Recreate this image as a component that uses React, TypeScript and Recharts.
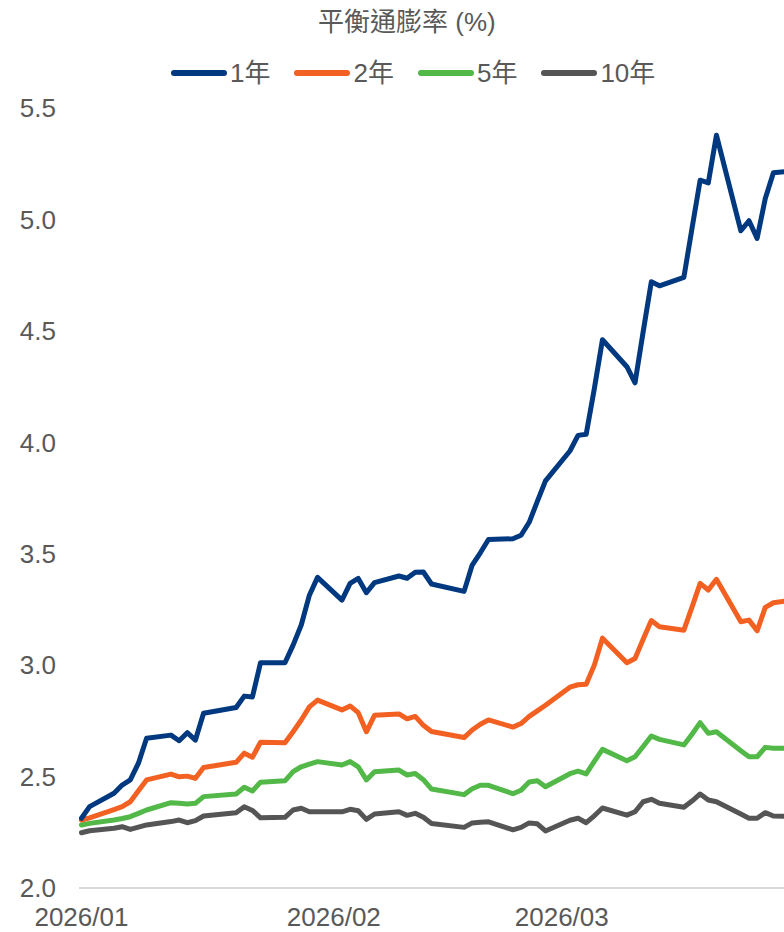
import { LineChart, Line, XAxis, YAxis } from 'recharts'

// trading days shown on the chart
const dates = [
  '2026-01-01', '2026-01-02', '2026-01-05', '2026-01-06', '2026-01-07', '2026-01-08', '2026-01-09',
  '2026-01-12', '2026-01-13', '2026-01-14', '2026-01-15', '2026-01-16',
  '2026-01-20', '2026-01-21', '2026-01-22', '2026-01-23',
  '2026-01-26', '2026-01-27', '2026-01-28', '2026-01-29', '2026-01-30',
  '2026-02-02', '2026-02-03', '2026-02-04', '2026-02-05', '2026-02-06',
  '2026-02-09', '2026-02-10', '2026-02-11', '2026-02-12', '2026-02-13',
  '2026-02-17', '2026-02-18', '2026-02-19', '2026-02-20',
  '2026-02-23', '2026-02-24', '2026-02-25', '2026-02-26', '2026-02-27',
  '2026-03-02', '2026-03-03', '2026-03-04', '2026-03-05', '2026-03-06',
  '2026-03-09', '2026-03-10', '2026-03-11', '2026-03-12', '2026-03-13',
  '2026-03-16', '2026-03-17', '2026-03-18', '2026-03-19', '2026-03-20',
  '2026-03-23', '2026-03-24', '2026-03-25', '2026-03-26', '2026-03-27',
  '2026-03-30',
]

const be1y = [
  2.313, 2.365, 2.425, 2.462, 2.485, 2.56, 2.672,
  2.686, 2.661, 2.697, 2.664, 2.784,
  2.81, 2.861, 2.857, 3.011,
  3.011, 3.09, 3.18, 3.314, 3.394,
  3.292, 3.367, 3.389, 3.325, 3.37,
  3.4, 3.39, 3.417, 3.418, 3.364,
  3.331, 3.449, 3.504, 3.564,
  3.567, 3.583, 3.641, 3.735, 3.827,
  3.961, 4.031, 4.036, 4.24, 4.46,
  4.339, 4.267, 4.496, 4.72, 4.702,
  4.74, 4.96, 5.176, 5.164, 5.378,
  4.949, 4.994, 4.915, 5.094, 5.209,
  5.22,
]

const be2y = [
  2.305, 2.315, 2.352, 2.365, 2.387, 2.436, 2.485,
  2.511, 2.499, 2.502, 2.492, 2.541,
  2.564, 2.605, 2.587, 2.654,
  2.652, 2.701, 2.754, 2.813, 2.843,
  2.799, 2.817, 2.787, 2.701, 2.775,
  2.781, 2.759, 2.77, 2.73, 2.702,
  2.675, 2.709, 2.735, 2.754,
  2.722, 2.738, 2.77, 2.795, 2.82,
  2.901, 2.912, 2.914, 3.0, 3.121,
  3.011, 3.03, 3.116, 3.2, 3.172,
  3.157, 3.26, 3.367, 3.337, 3.385,
  3.195, 3.202, 3.154, 3.259, 3.28,
  3.295,
]

const be5y = [
  2.283, 2.29, 2.305, 2.312, 2.32, 2.335, 2.35,
  2.383, 2.38, 2.377, 2.38, 2.41,
  2.422, 2.452, 2.435, 2.475,
  2.481, 2.522, 2.544, 2.556, 2.567,
  2.552, 2.567, 2.544, 2.485, 2.522,
  2.529, 2.507, 2.514, 2.486, 2.444,
  2.419, 2.445, 2.461, 2.461,
  2.423, 2.439, 2.476, 2.481, 2.454,
  2.513, 2.524, 2.512, 2.568, 2.622,
  2.571, 2.589, 2.635, 2.682, 2.667,
  2.642, 2.69, 2.742, 2.694, 2.701,
  2.616, 2.589, 2.589, 2.631, 2.627,
  2.627,
]

const be10y = [
  2.248, 2.257, 2.268, 2.275, 2.263, 2.273, 2.283,
  2.298, 2.305, 2.293, 2.302, 2.323,
  2.338, 2.365, 2.348, 2.315,
  2.317, 2.35, 2.358, 2.342, 2.342,
  2.342, 2.353, 2.347, 2.308, 2.332,
  2.342, 2.326, 2.335, 2.317, 2.289,
  2.272, 2.292, 2.295, 2.297,
  2.261, 2.272, 2.292, 2.288, 2.256,
  2.304, 2.313, 2.293, 2.324, 2.359,
  2.327, 2.342, 2.387, 2.398, 2.38,
  2.362, 2.39, 2.422, 2.395, 2.387,
  2.332, 2.313, 2.313, 2.338, 2.323,
  2.32,
]

const seriesNames = ['1年', '2年', '5年', '10年']
const seriesKeys = ['y1', 'y2', 'y5', 'y10']
const colors = ['#00397f', '#f26122', '#52b848', '#555555']

const yTicks = [2.0, 2.5, 3.0, 3.5, 4.0, 4.5, 5.0, 5.5]
const monthStarts = ['2026-01-01', '2026-02-01', '2026-03-01']
const monthLabels = ['2026/01', '2026/02', '2026/03']

const DAY = 86400000
const origin = Date.parse('2026-01-01')
const dayOf = (s: string) => (Date.parse(s) - origin) / DAY

const data = dates.map((d, i) => ({
  day: dayOf(d),
  y1: be1y[i],
  y2: be2y[i],
  y5: be5y[i],
  y10: be10y[i],
}))

const monthTicks = monthStarts.map(dayOf)

const FONT = '"Liberation Sans", Arial, "Noto Sans CJK TC", sans-serif'
const TEXT = '#595959'

export default function App() {
  // fixed so the full 784x932 frame is used without triggering scrollbars
  return (
    <div style={{ position: 'fixed', top: 0, left: 0, width: 784, height: 932, fontFamily: FONT, background: '#fff' }}>
      <div
        style={{
          position: 'absolute', top: 8, left: 318, fontSize: 26, lineHeight: '28px',
          color: TEXT, whiteSpace: 'nowrap',
        }}
      >
        平衡通膨率 (%)
      </div>
      <div
        style={{
          position: 'absolute', top: 58, left: 171, display: 'flex', alignItems: 'center',
          fontSize: 26, lineHeight: '30px', color: TEXT, whiteSpace: 'nowrap',
        }}
      >
        {seriesNames.map((name, i) => (
          <div key={name} style={{ display: 'flex', alignItems: 'center', marginRight: 24 }}>
            <span
              style={{
                display: 'inline-block', width: 56, height: 6, borderRadius: 3,
                background: colors[i], marginRight: 3,
              }}
            />
            <span>{name}</span>
          </div>
        ))}
      </div>
      <div style={{ position: 'absolute', top: 0, left: 0 }}>
        <LineChart width={784} height={932} data={data} margin={{ top: 108, right: 0, bottom: 0, left: 0 }}>
          <XAxis
            dataKey="day"
            type="number"
            domain={[-0.3, 86.3]}
            allowDataOverflow
            ticks={monthTicks}
            tickFormatter={(v: number) => monthLabels[monthTicks.indexOf(v)] ?? ''}
            tickLine={false}
            tickSize={0}
            tickMargin={20}
            height={44}
            axisLine={{ stroke: '#d9d9d9', strokeWidth: 2 }}
            tick={{ fill: TEXT, fontSize: 26, fontFamily: FONT }}
            interval={0}
          />
          <YAxis
            type="number"
            domain={[2, 5.5]}
            ticks={yTicks}
            tickFormatter={(v: number) => v.toFixed(1)}
            width={79}
            axisLine={false}
            tickLine={false}
            tickSize={0}
            tickMargin={23}
            tick={{ fill: TEXT, fontSize: 26, fontFamily: FONT }}
            interval={0}
          />
          {seriesKeys.slice().reverse().map((k) => {
            const i = seriesKeys.indexOf(k)
            return (
              <Line
                key={k}
                dataKey={k}
                name={seriesNames[i]}
                type="linear"
                stroke={colors[i]}
                strokeWidth={5}
                strokeLinejoin="round"
                strokeLinecap="round"
                dot={false}
                activeDot={false}
                isAnimationActive={false}
              />
            )
          })}
        </LineChart>
      </div>
    </div>
  )
}
